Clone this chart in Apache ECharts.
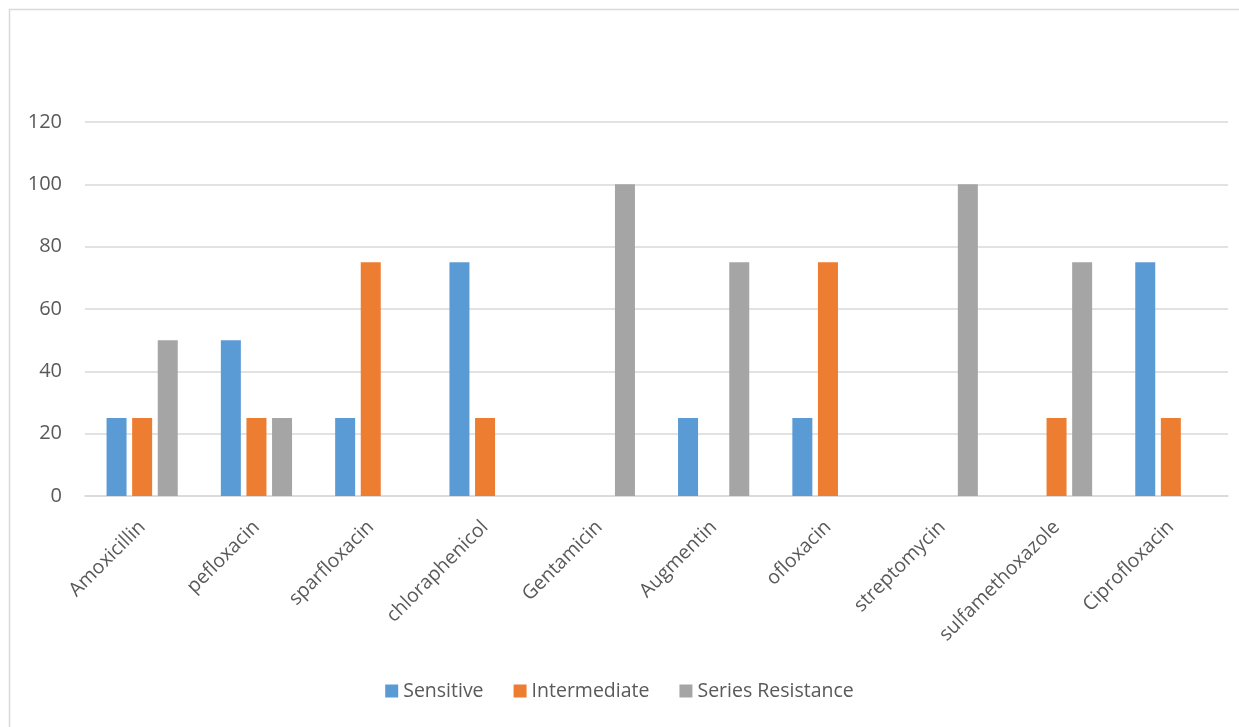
<!DOCTYPE html>
<html><head><meta charset="utf-8">
<script src="https://cdn.jsdelivr.net/npm/echarts@6/dist/echarts.min.js"></script>
<style>html,body{margin:0;padding:0;background:#fff}#c{width:1239px;height:727px}</style>
</head><body><div id="c"></div>
<script>
const categories = ["Amoxicillin","pefloxacin","sparfloxacin","chloraphenicol","Gentamicin","Augmentin","ofloxacin","streptomycin","sulfamethoxazole","Ciprofloxacin"];
const sensitive = [25,50,25,75,0,25,25,0,0,75];
const intermediate = [25,25,75,25,0,0,75,0,25,25];
const resistance = [50,25,0,0,100,75,0,100,75,0];
const seriesNames = ["Sensitive","Intermediate","Series Resistance"];
const yTicks = {min:0,max:120,interval:20};

const font = "'Open Sans', 'Liberation Sans', sans-serif";
const chart = echarts.init(document.getElementById('c'));
const colors = ['#5B9BD5','#ED7D31','#A5A5A5'];
const mk = (name, data, i) => ({
  name, type:'bar', data, barWidth:20, barGap:'28%',
  itemStyle:{color:colors[i]}, emphasis:{disabled:true}
});
chart.setOption({
  animation:false,
  graphic:[{type:'rect',shape:{x:9.5,y:9.5,width:1240,height:740},style:{fill:null,stroke:'#d9d9d9',lineWidth:1.5},silent:true}],
  grid:{left:85,right:11,top:122,bottom:231,containLabel:false},
  legend:{bottom:21,left:'center',itemWidth:13,itemHeight:13,itemGap:30,icon:'rect',
    textStyle:{color:'#595959',fontSize:19.5,fontFamily:font},data:seriesNames},
  xAxis:{type:'category',data:categories,
    axisLine:{lineStyle:{color:'#d9d9d9',width:1.5}},axisTick:{show:false},
    axisLabel:{rotate:45,color:'#595959',fontSize:19.5,fontFamily:font,margin:28,interval:0}},
  yAxis:{type:'value',min:yTicks.min,max:yTicks.max,interval:yTicks.interval,
    axisLine:{show:false},axisTick:{show:false},
    splitLine:{lineStyle:{color:'#d9d9d9',width:1.5}},
    axisLabel:{color:'#595959',fontSize:20,fontFamily:font,margin:23}},
  series:[mk(seriesNames[0],sensitive,0),mk(seriesNames[1],intermediate,1),mk(seriesNames[2],resistance,2)]
});
</script></body></html>
